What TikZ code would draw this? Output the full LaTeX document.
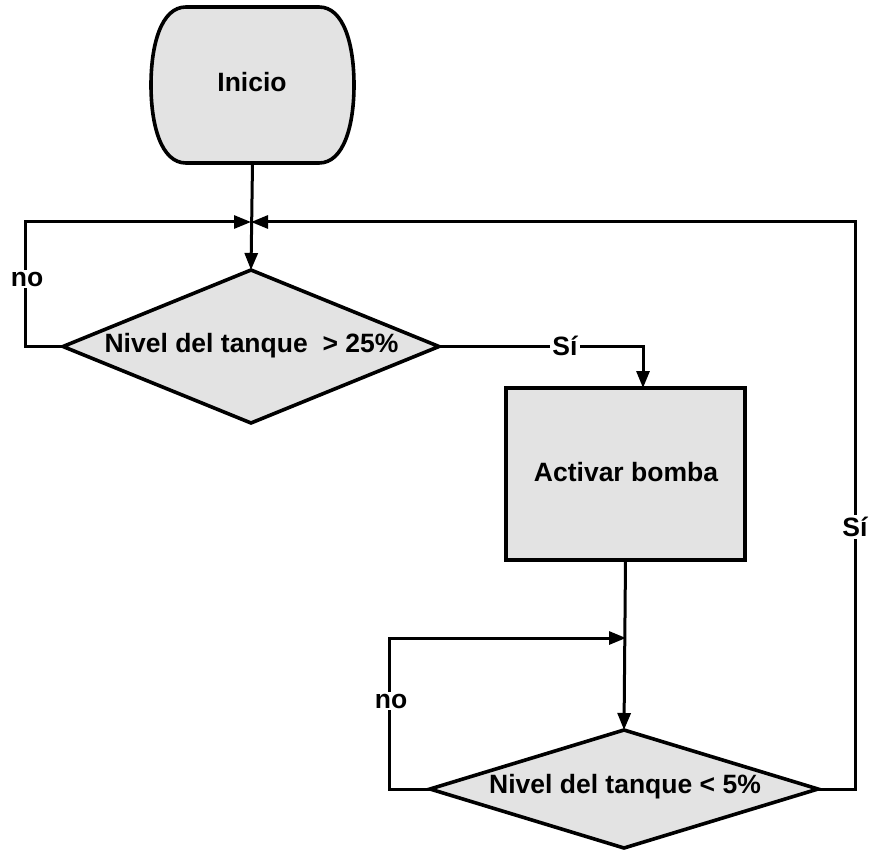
\documentclass[tikz,border=0pt]{standalone}
\usepackage{fontspec}
\setmainfont{Liberation Sans}
\usetikzlibrary{shapes.geometric,arrows.meta}
\definecolor{boxgray}{HTML}{E3E3E3}
\tikzset{
  shapeline/.style={draw=black,line width=3.6pt,fill=boxgray,line join=miter},
  conn/.style={draw=black,line width=3pt},
  arr/.style={conn,-{Triangle[length=17pt,width=13pt]}},
  dia/.style={shapeline,diamond,outer sep=0pt,inner sep=0pt},
  txt/.style={font=\fontsize{26.5}{31}\selectfont\bfseries,inner sep=0pt},
  lbl/.style={font=\fontsize{26.5}{31}\selectfont\bfseries,fill=white,inner sep=2pt}
}
\begin{document}
\begin{tikzpicture}[x=1pt,y=-1pt]
\useasboundingbox (0,0) rectangle (869,850);
% start terminal
\node[draw=none,minimum width=203pt,minimum height=156pt,outer sep=0pt,inner sep=0pt] (inicio) at (252.5,85) {};
\draw[shapeline] (186,7) -- (319,7) .. controls (344,7) and (354,45) .. (354,85)
  .. controls (354,125) and (344,163) .. (319,163) -- (186,163)
  .. controls (161,163) and (151,125) .. (151,85)
  .. controls (151,45) and (161,7) .. (186,7) -- cycle;
\node[txt] (tini) at (252,82) {Inicio};
% decision 1
\node[dia,minimum width=376pt,minimum height=153pt] (d1) at (251,346.5) {};
\node[txt] (td1) at (251.5,346) {Nivel del tanque\ \ > 25\%};
% process
\node[shapeline,rectangle,outer sep=0pt,minimum width=239pt,minimum height=172pt] (act) at (625.5,474) {};
\node[txt] (tact) at (626,472) {Activar bomba};
% decision 2
\node[dia,minimum width=388pt,minimum height=118pt] (d2) at (624,789) {};
\node[txt] (td2) at (625,787) {Nivel del tanque < 5\%};
% junctions and corners
\coordinate (j1) at (251,222);
\coordinate (l1) at (25,222);
\coordinate (r1) at (855,222);
\coordinate (j2) at (626,638);
\coordinate (l2) at (389,638);
\coordinate (a1) at (643,388);
% connectors
\draw[arr] (inicio.south) -- (d1.north);
\draw[arr] (d1.west) -| (l1) -- (j1);
\draw[arr] (d2.east) -| (r1) -- (j1);
\draw[arr] (d1.east) -| (a1);
\draw[arr] (act.south) -- (d2.north);
\draw[arr] (d2.west) -| (l2) -- (j2);
% labels
\node[lbl] (no1) at (27,279) {no};
\node[lbl] (no2) at (391,701) {no};
\node[lbl] (si1) at (565,346) {Sí};
\node[lbl] (si2) at (855,527) {Sí};
\end{tikzpicture}
\end{document}
